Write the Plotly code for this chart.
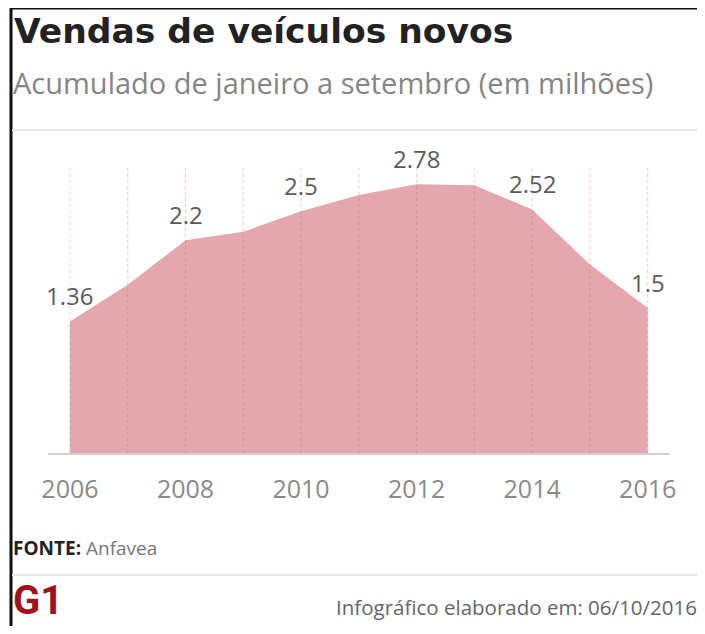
import plotly.graph_objects as go

# ---- data ----
years = [2006, 2007, 2008, 2009, 2010, 2011, 2012, 2013, 2014, 2015, 2016]
sales = [1.36, 1.74, 2.2, 2.29, 2.5, 2.67, 2.78, 2.77, 2.52, 1.95, 1.5]
label_years = [2006, 2008, 2010, 2012, 2014, 2016]
label_texts = ["1.36", "2.2", "2.5", "2.78", "2.52", "1.5"]
tick_years = [2006, 2008, 2010, 2012, 2014, 2016]
tick_texts = ["2006", "2008", "2010", "2012", "2014", "2016"]

title = "Vendas de veículos novos"
subtitle = "Acumulado de janeiro a setembro (em milhões)"
source_label = "FONTE:"
source_name = "Anfavea"
footer = "Infográfico elaborado em: 06/10/2016"

# ---- layout geometry (page body adds an 8px margin on every side) ----
OFF = 8
W, H = 705 - 2 * OFF, 634 - 2 * OFF
ML, MT = 48 - OFF, 163 - OFF
MR = W - (670 - OFF)
MB = H - (453 - OFF)
PW = W - ML - MR
PH = H - MT - MB


def px(x):
    return (x - OFF - ML) / PW


def py(y):
    return (H - MB - (y - OFF)) / PH


FONT = "Open Sans, Roboto, sans-serif"

fig = go.Figure()
fig.add_trace(go.Scatter(
    x=years, y=sales, mode="lines", fill="tozeroy",
    fillcolor="rgba(205,95,105,0.55)",
    line=dict(width=0, color="rgba(205,95,105,0.55)"),
    hoverinfo="skip", showlegend=False,
))

annotations = []
for xv, txt in zip(label_years, label_texts):
    yv = sales[years.index(xv)]
    annotations.append(dict(
        x=xv, y=yv, xref="x", yref="y", text=txt, showarrow=False,
        yshift=26, xanchor="center", yanchor="middle",
        font=dict(family=FONT, size=24, color="#5a5a5a"),
    ))

annotations += [
    dict(x=px(12), y=py(31), xref="paper", yref="paper", text="<b>" + title + "</b>",
         showarrow=False, xanchor="left", yanchor="middle",
         font=dict(family="DejaVu Sans, sans-serif", size=34.5, color="#222222")),
    dict(x=px(11), y=py(83), xref="paper", yref="paper", text=subtitle,
         showarrow=False, xanchor="left", yanchor="middle",
         font=dict(family=FONT, size=29, color="#858585")),
    dict(x=px(11), y=py(548), xref="paper", yref="paper",
         text="<b><span style='color:#222222'>" + source_label + "</span></b> " + source_name,
         showarrow=False, xanchor="left", yanchor="middle",
         font=dict(family=FONT, size=19, color="#777777")),
    dict(x=px(699), y=py(607), xref="paper", yref="paper", text=footer,
         showarrow=False, xanchor="right", yanchor="middle",
         font=dict(family=FONT, size=20.5, color="#666666")),
    dict(x=px(11), y=py(626), xref="paper", yref="paper", text="<b>G1</b>",
         showarrow=False, xanchor="left", yanchor="bottom",
         font=dict(family="Roboto, sans-serif", size=40, color="#a3101c")),
]

shapes = [
    # top and left frame
    dict(type="line", xref="paper", yref="paper", x0=px(10), x1=px(712), y0=py(8), y1=py(8),
         line=dict(color="#111111", width=3)),
    dict(type="line", xref="paper", yref="paper", x0=px(11), x1=px(11), y0=py(7), y1=py(640),
         line=dict(color="#111111", width=3)),
    # separators
    dict(type="line", xref="paper", yref="paper", x0=px(12), x1=px(712), y0=py(130), y1=py(130),
         line=dict(color="#e6e6e6", width=2)),
    dict(type="line", xref="paper", yref="paper", x0=px(12), x1=px(712), y0=py(575), y1=py(575),
         line=dict(color="#e6e6e6", width=2)),
]

fig.update_layout(
    width=W, height=H,
    margin=dict(l=ML, r=MR, t=MT, b=MB, pad=0),
    paper_bgcolor="white", plot_bgcolor="white",
    showlegend=False,
    annotations=annotations,
    shapes=shapes,
    xaxis=dict(
        range=[2005.62, 2016.386],
        tickmode="array", tickvals=tick_years, ticktext=tick_texts,
        showgrid=False, zeroline=False,
        showline=True, linecolor="#d0d0d0", linewidth=2,
        ticks="", ticklabelstandoff=13,
        tickfont=dict(family=FONT, size=25, color="#8a8a8a"),
        fixedrange=True,
    ),
    yaxis=dict(
        range=[0, 3.0], showgrid=False, zeroline=False, showticklabels=False,
        showline=False, fixedrange=True,
    ),
)

# vertical dotted guides at each year
for yr in years:
    fig.add_shape(type="line", xref="x", yref="paper", x0=yr, x1=yr, y0=0, y1=py(165),
                  line=dict(color="rgba(235,150,158,0.55)", width=1, dash="dot"), layer="below")

fig.write_html("out.html")
